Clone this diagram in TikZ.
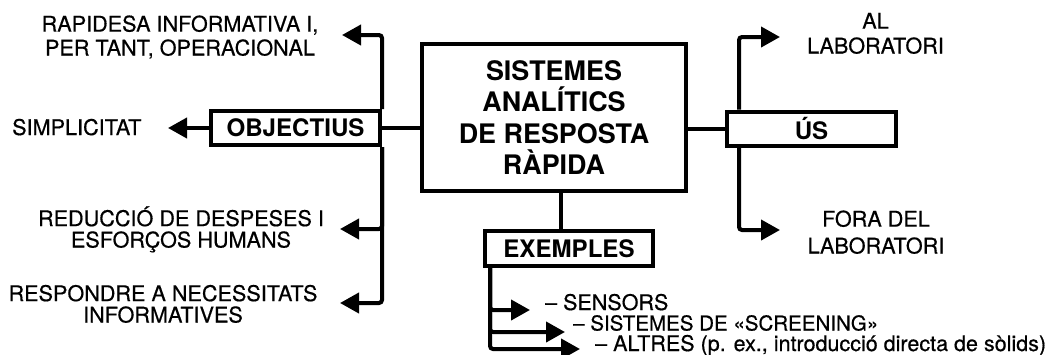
\documentclass[tikz,border=0pt]{standalone}
\usepackage{fontspec}
\setmainfont{TeX Gyre Heros}
\newfontfamily\lblfont[FakeBold=0.5]{TeX Gyre Heros}
\usetikzlibrary{arrows.meta}
\begin{document}
\begin{tikzpicture}[x=1bp,y=-1bp,
  box/.style={draw, line width=4bp, inner sep=0pt, fill=white, font=\fontsize{24.2}{28}\selectfont\bfseries},
  lbl/.style={inner sep=0pt, align=center, font=\lblfont\fontsize{21.7}{24}\selectfont},
  item/.style={inner sep=0pt, anchor=base west, font=\lblfont\fontsize{21.6}{24}\selectfont},
  conn/.style={line width=4bp},
  arr/.style={line width=4bp, -{Triangle[length=19bp,width=20bp]}, rounded corners=3bp}]
\fill[white] (0,0) rectangle (1049,354);
\useasboundingbox (0,0) rectangle (1049,354);

% boxes
\node[box, minimum width=264bp, minimum height=147bp, align=center,
      font=\fontsize{27}{31.5}\selectfont\bfseries] (main) at (554,117.5)
      {SISTEMES\\ANALÍTICS\\DE RESPOSTA\\RÀPIDA};
\node[box, minimum width=169bp, minimum height=34bp] (obj) at (295.5,128) {OBJECTIUS};
\node[box, minimum width=169bp, minimum height=34bp] (us) at (811.5,128.5) {ÚS};
\node[box, minimum width=168bp, minimum height=35bp] (ex) at (569,248.5) {EXEMPLES};

% labels (base anchor = baseline of the last line)
\node[lbl, anchor=base] (rap) at (180,55.5) {RAPIDESA INFORMATIVA I,\\PER TANT, OPERACIONAL};
\node[lbl, anchor=base west] (simp) at (12,135) {SIMPLICITAT};
\node[lbl, anchor=base, font=\lblfont\fontsize{21.7}{21.5}\selectfont] (red) at (181,247.5) {REDUCCIÓ DE DESPESES I\\ESFORÇOS HUMANS};
\node[lbl, anchor=base, font=\lblfont\fontsize{21.7}{21.5}\selectfont] (resp) at (163,322.5) {RESPONDRE A NECESSITATS\\INFORMATIVES};
\node[lbl, anchor=base, font=\lblfont\fontsize{21.7}{25}\selectfont] (al) at (875.5,53.5) {AL\\LABORATORI};
\node[lbl, anchor=base, font=\lblfont\fontsize{21.7}{27}\selectfont] (fora) at (876,253.5) {FORA DEL\\LABORATORI};
\node[item] (sens) at (545,310) {– SENSORS};
\node[item, font=\lblfont\fontsize{20.6}{24}\selectfont] (scr) at (573,330.5) {– SISTEMES DE «SCREENING»};
\node[item] (alt) at (595,351) {– ALTRES (p. ex., introducció directa de sòlids)};

% arrow tips
\coordinate (tRap) at (342,35);
\coordinate (tSimp) at (168,128);
\coordinate (tRed) at (340,229);
\coordinate (tResp) at (340,303);
\coordinate (tAl) at (780,37);
\coordinate (tFora) at (780,230);
\coordinate (tSens) at (530,310);
\coordinate (tScr) at (565,332);
\coordinate (tAlt) at (580,349);

% connectors
\draw[conn] (obj.east) -- (obj.east -| main.west);
\draw[conn] (us.west) -- (us.west -| main.east);
\draw[conn] ([xshift=7bp]main.south) -- ([xshift=7bp]main.south |- ex.north);

\draw[arr] (obj.north east) |- (tRap);
\draw[arr] (obj.west) -- (tSimp);
\draw[arr] (obj.south east) |- (tRed);
\draw[arr] (obj.south east) |- (tResp);

\draw[arr] ([xshift=14bp]us.north west) |- (tAl);
\draw[arr] ([xshift=14bp]us.south west) |- (tFora);

\draw[arr] ([xshift=7bp]ex.south west) |- (tSens);
\draw[arr] ([xshift=7bp]ex.south west) |- (tScr);
\draw[arr] ([xshift=7bp]ex.south west) |- (tAlt);
\end{tikzpicture}
\end{document}
